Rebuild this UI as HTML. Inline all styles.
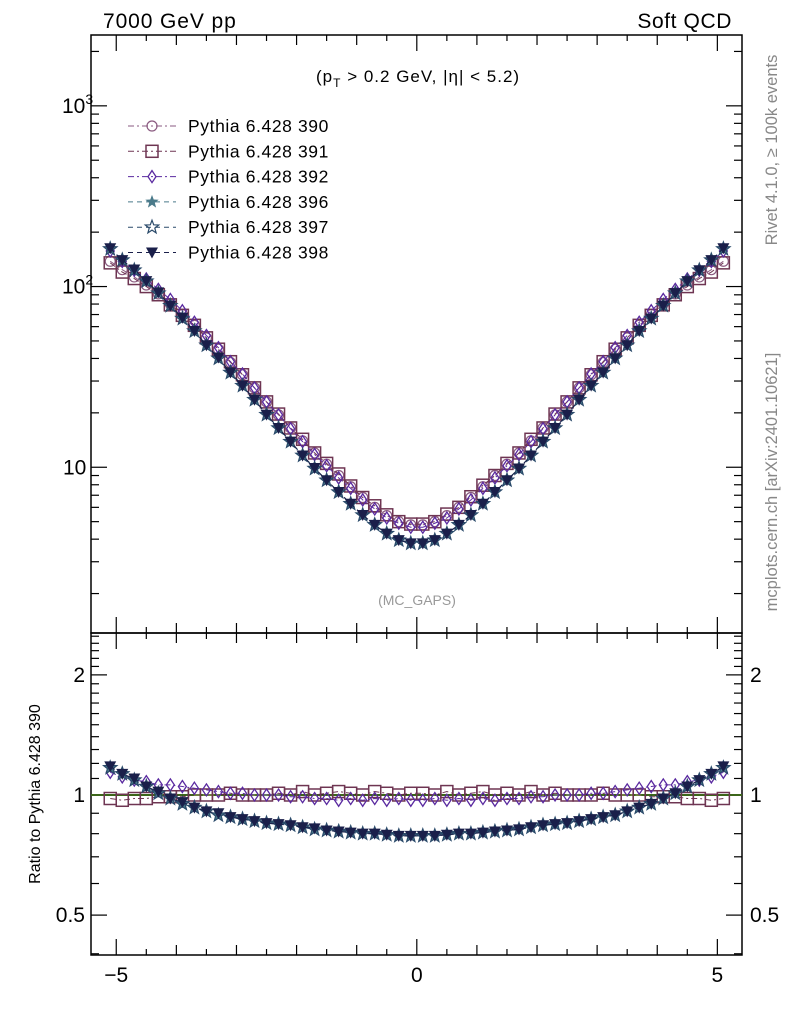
<!DOCTYPE html>
<html><head><meta charset="utf-8">
<style>
html,body{margin:0;padding:0;background:#fff;}
svg{display:block;font-family:"Liberation Sans",sans-serif;}
</style></head>
<body>
<svg id="chart" width="786" height="1024" viewBox="0 0 786 1024" xmlns="http://www.w3.org/2000/svg">
<text x="103" y="28" font-size="21" letter-spacing="0.9">7000 GeV pp</text>
<text x="732" y="28" font-size="21" letter-spacing="0.6" text-anchor="end">Soft QCD</text>
<text x="316" y="82" font-size="17" letter-spacing="1">(p<tspan font-size="12" dy="5">T</tspan><tspan dy="-5"> &gt; 0.2 GeV, |η| &lt; 5.2)</tspan></text>
<text x="417" y="605" font-size="14" fill="#999" text-anchor="middle">(MC_GAPS)</text>
<text transform="translate(777,150) rotate(-90)" font-size="16.5" fill="#888" text-anchor="middle">Rivet 4.1.0, ≥ 100k events</text>
<text transform="translate(777,482) rotate(-90)" font-size="16.5" fill="#888" text-anchor="middle">mcplots.cern.ch [arXiv:2401.10621]</text>
<text transform="translate(40,794) rotate(-90)" font-size="16" text-anchor="middle">Ratio to Pythia 6.428 390</text>
<g id="g"></g>
</svg>
<script>
const etaCenters=[-5.1,-4.9,-4.7,-4.5,-4.3,-4.1,-3.9,-3.7,-3.5,-3.3,-3.1,-2.9,-2.7,-2.5,-2.3,-2.1,-1.9,-1.7,-1.5,-1.3,-1.1,-0.9,-0.7,-0.5,-0.3,-0.1,0.1,0.3,0.5,0.7,0.9,1.1,1.3,1.5,1.7,1.9,2.1,2.3,2.5,2.7,2.9,3.1,3.3,3.5,3.7,3.9,4.1,4.3,4.5,4.7,4.9,5.1];
const values390=[138,124,113,102,91,80,70,61,52,45,38,32.5,27.5,23,19.5,16.5,14,12,10.4,9.0,7.8,6.8,6.0,5.4,5.0,4.8,4.8,5.0,5.4,6.0,6.8,7.8,9.0,10.4,12,14,16.5,19.5,23,27.5,32.5,38,45,52,61,70,80,91,102,113,124,138];
const ratio391=[0.98,0.97,0.98,0.98,0.99,0.99,0.99,1.0,1.0,1.0,1.01,1.0,1.0,1.0,1.01,1.0,1.02,1.0,1.01,1.02,1.01,1.0,1.02,1.01,1.0,1.01,1.01,1.0,1.02,1.0,1.01,1.02,1.0,1.01,1.0,1.02,1.0,1.01,1.0,1.0,1.0,1.01,1.0,1.0,1.0,0.99,0.99,0.99,0.98,0.98,0.97,0.98];
const ratio392=[1.14,1.11,1.09,1.08,1.06,1.06,1.05,1.04,1.03,1.02,1.01,1.01,1.0,1.0,1.0,0.99,0.99,0.98,0.98,0.97,0.98,0.97,0.98,0.97,0.98,0.97,0.97,0.98,0.97,0.98,0.97,0.98,0.97,0.98,0.98,0.99,0.99,1.0,1.0,1.0,1.01,1.01,1.02,1.03,1.04,1.05,1.06,1.06,1.08,1.09,1.11,1.14];
const ratio396=[1.17,1.13,1.09,1.05,1.01,0.98,0.95,0.93,0.91,0.89,0.88,0.87,0.86,0.85,0.845,0.84,0.83,0.82,0.815,0.81,0.805,0.8,0.8,0.795,0.79,0.79,0.79,0.79,0.795,0.8,0.8,0.805,0.81,0.815,0.82,0.83,0.84,0.845,0.85,0.86,0.87,0.88,0.89,0.91,0.93,0.95,0.98,1.01,1.05,1.09,1.13,1.17];
const ratio397=[1.17,1.13,1.09,1.05,1.01,0.98,0.95,0.93,0.91,0.89,0.88,0.87,0.86,0.85,0.845,0.84,0.83,0.82,0.815,0.81,0.805,0.8,0.8,0.795,0.79,0.79,0.79,0.79,0.795,0.8,0.8,0.805,0.81,0.815,0.82,0.83,0.84,0.845,0.85,0.86,0.87,0.88,0.89,0.91,0.93,0.95,0.98,1.01,1.05,1.09,1.13,1.17];
const ratio398=[1.18,1.13,1.1,1.05,1.02,0.98,0.96,0.93,0.91,0.9,0.88,0.87,0.86,0.85,0.845,0.84,0.83,0.825,0.815,0.81,0.805,0.8,0.8,0.795,0.79,0.79,0.79,0.79,0.795,0.8,0.8,0.805,0.81,0.815,0.82,0.83,0.84,0.845,0.85,0.86,0.87,0.88,0.89,0.91,0.93,0.95,0.98,1.01,1.05,1.09,1.13,1.18];
const seriesNames=["Pythia 6.428 390","Pythia 6.428 391","Pythia 6.428 392","Pythia 6.428 396","Pythia 6.428 397","Pythia 6.428 398"];
const xTickLabels=[-5,0,5];

const NS="http://www.w3.org/2000/svg";
const g=document.getElementById('g');
const L=91,R=742,T=35,MB=633,RB=955;
const xMin=-5.42,xMax=5.41;
const X=v=>L+(v-xMin)/(xMax-xMin)*(R-L);
const yMainMin=Math.log10(1.21),yMainMax=3.392;
const YM=v=>MB-(Math.log10(v)-yMainMin)/(yMainMax-yMainMin)*(MB-T);
const rMin=-0.401,rMax=0.406;
const YR=v=>RB-(Math.log10(v)-rMin)/(rMax-rMin)*(RB-MB);
function el(t,a,p){const e=document.createElementNS(NS,t);for(const k in a)e.setAttribute(k,a[k]);(p||g).appendChild(e);return e;}

const f1=el('rect',{x:L,y:T,width:R-L,height:MB-T,fill:'none',stroke:'#000','stroke-width':1.5});


const f2=el('rect',{x:L,y:MB,width:R-L,height:RB-MB,fill:'none',stroke:'#000','stroke-width':1.5});



for(let i=-10;i<=10;i++){const v=i/2;const x=X(v);const major=(i%10===0);const mid=(i%2===0);
 const len=major?16:(mid?10:6);
 [[T,1],[MB,-1],[MB,1],[RB,-1]].forEach(([y0,d])=>{el('line',{x1:x,x2:x,y1:y0,y2:y0+d*len,stroke:'#000','stroke-width':1.2});});
}
xTickLabels.forEach(v=>{const t=el('text',{x:X(v),y:982,'font-size':21,'text-anchor':'middle'});t.textContent=v<0?'−'+Math.abs(v):String(v);
 
 });

for(let e=0;e<=3;e++){for(let m=1;m<=9;m++){const v=m*Math.pow(10,e);const y=YM(v);if(y<T||y>MB)continue;const len=m===1?16:8;
 el('line',{x1:L,x2:L+len,y1:y,y2:y,stroke:'#000','stroke-width':1.2});el('line',{x1:R,x2:R-len,y1:y,y2:y,stroke:'#000','stroke-width':1.2});}}
[[1000,'10','3'],[100,'10','2'],[10,'10','']].forEach(([v,b,s])=>{const t=el('text',{x:s?62:63,y:YM(v)+7,'font-size':21});t.textContent=b;
 if(s){const sp=el('tspan',{dy:-9,'font-size':14},t);sp.textContent=s;}
 
 });

[0.4,0.5,0.6,0.7,0.8,0.9,1,1.1,1.2,1.3,1.4,1.5,1.6,1.7,1.8,1.9,2,2.1,2.2,2.3,2.4,2.5].forEach(v=>{const y=YR(v);if(y<MB||y>RB)return;const maj=[0.5,1,2].includes(Math.round(v*10)/10);const len=maj?16:8;
 el('line',{x1:L,x2:L+len,y1:y,y2:y,stroke:'#000','stroke-width':1.2});el('line',{x1:R,x2:R-len,y1:y,y2:y,stroke:'#000','stroke-width':1.2});});
[[2,'2'],[1,'1'],[0.5,'0.5']].forEach(([v,s])=>{[[85,'end'],[750,'start']].forEach(([x,a])=>{const t=el('text',{x:x,y:YR(v)+7,'font-size':21,'text-anchor':a});t.textContent=s;
 
 });});

const styles=[
 {c:'#8a5a80',m:'circle',d:'6,3,2,3'},
 {c:'#6e3552',m:'square',d:'6,3,2,3'},
 {c:'#5a2aa0',m:'diamond',d:'6,3,2,3'},
 {c:'#4a7a8a',m:'starf',d:'5,4'},
 {c:'#2a4a6a',m:'star',d:'5,4'},
 {c:'#1a1f4a',m:'tri',d:'5,4'}];
const ratios=[null,ratio391,ratio392,ratio396,ratio397,ratio398];

function starPts(x,y,r){let p=[];for(let k=0;k<10;k++){const a=-Math.PI/2+k*Math.PI/5;const rr=k%2?r*0.42:r;p.push((x+rr*Math.cos(a)).toFixed(1)+','+(y+rr*Math.sin(a)).toFixed(1));}return p.join(' ');}
function marker(s,x,y,parent){const c=s.c;let e;
 if(s.m==='circle')e=el('circle',{cx:x,cy:y,r:5,fill:'none',stroke:c,'stroke-width':1.2},parent);
 else if(s.m==='square')e=el('rect',{x:x-6,y:y-6,width:12,height:12,fill:'none',stroke:c,'stroke-width':1.5},parent);
 else if(s.m==='diamond')e=el('polygon',{points:`${x},${y-6} ${x+4},${y} ${x},${y+6} ${x-4},${y}`,fill:'none',stroke:c,'stroke-width':1.3},parent);
 else if(s.m==='starf')e=el('polygon',{points:starPts(x,y,7),fill:c},parent);
 else if(s.m==='star')e=el('polygon',{points:starPts(x,y,7),fill:'none',stroke:c,'stroke-width':1.2},parent);
 else e=el('polygon',{points:`${x-6},${y-5} ${x+6},${y-5} ${x},${y+6}`,fill:c},parent);
 return e;}

el('line',{x1:L,x2:R,y1:YR(1),y2:YR(1),stroke:'#7c3',"stroke-width":2});
el('line',{x1:L,x2:R,y1:YR(1),y2:YR(1),stroke:'#000',"stroke-width":1});

styles.forEach((s,i)=>{
 const grp=el('g',{});
 
 
 const vals=values390.map((v,j)=>ratios[i]?v*ratios[i][j]:v);
 const rv=values390.map((v,j)=>ratios[i]?ratios[i][j]:1);
 el('polyline',{points:etaCenters.map((e,j)=>X(e)+','+YM(vals[j])).join(' '),fill:'none',stroke:s.c,'stroke-width':1,'stroke-dasharray':s.d},grp);
 etaCenters.forEach((e,j)=>{const m=marker(s,X(e),YM(vals[j]),grp);
  
  });
 if(i>0){
  el('polyline',{points:etaCenters.map((e,j)=>X(e)+','+YR(rv[j])).join(' '),fill:'none',stroke:s.c,'stroke-width':1,'stroke-dasharray':s.d},grp);
  etaCenters.forEach((e,j)=>{const m=marker(s,X(e),YR(rv[j]),grp);
   
   });
 }
 const ly=126+i*25.3;
 const lg=el('g',{});
 
 
 el('line',{x1:128,x2:176,y1:ly,y2:ly,stroke:s.c,'stroke-width':1,'stroke-dasharray':s.d},lg);
 marker(s,152,ly,lg);
 const t=el('text',{x:188,y:ly+6,'font-size':17.5,'letter-spacing':0.6},lg);t.textContent=seriesNames[i];
});
</script>
</body></html>
